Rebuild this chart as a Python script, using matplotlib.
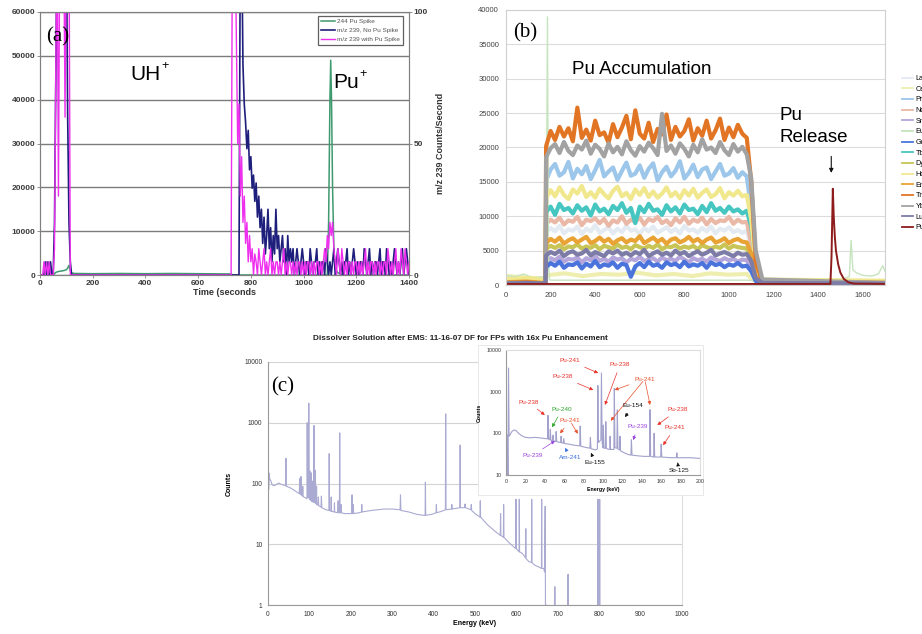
import numpy as np
import matplotlib.pyplot as plt
from matplotlib.patches import Rectangle

plt.rcParams['font.family'] = ['Liberation Sans', 'DejaVu Sans']

W, H = 922, 634
nan = np.nan

# ---------------- (a) ion signals vs time ----------------
# 244 Pu spike, counts (left axis)
green_t = [0, 50, 55, 60, 70, 80, 90, 100, 105, 110, 115, 120, 130, 200, 300, 400,
           500, 600, 700, 720, 735, 1090, 1095, 1100, 1103, 1106, 1110, 1115, 1120,
           1130, 1150, 1400]
green_v = [0, 0, 300, 600, 800, 900, 1000, 1200, 1600, 2200, 900, 500, 350, 300, 350, 300,
           350, 300, 250, 250, 0, 0, 12000, 40000, 49000, 40000, 20000, 6000, 1500,
           500, 0, 0]

# m/z 239 counts/second (right axis), 0-140 s and 700-1400 s every 5 s
navy_early = [0, 0, 0, 0, 5, 0, 5, 0, 5, 0, 0, 20, 75, 130, 130, 130, 130, 130, 130,
              130, 130, 60, 20, 5, 0, 0, 0, 0, 0]
magenta_early = [0, 0, 0, 5, 0, 5, 0, 5, 0, 0, 0, 10, 80, 130, 30, 130, 130, 130, 130,
                 60, 130, 130, 130, 0, 0, 0, 0, 0, 0]
navy_tail = [0, 0, 0, 0, 0, 0, 0, 0, 0, 0,
             0, 0, 130, 130, 80, 65, 58, 48, 55, 40,
             45, 33, 38, 28, 35, 22, 30, 18, 25, 12,
             22, 8, 15, 25, 10, 18, 5, 15, 8, 25,
             10, 15, 5, 10, 15, 5, 10, 0, 15, 5,
             10, 5, 10, 0, 5, 10, 5, 0, 5, 10,
             5, 0, 5, 5, 0, 10, 5, 0, 5, 5,
             10, 0, 5, 0, 5, 5, 0, 10, 5, 0,
             5, 0, 5, 10, 0, 5, 10, 5, 0, 5,
             0, 5, 5, 10, 0, 5, 0, 5, 10, 5,
             0, 5, 0, 5, 5, 0, 10, 5, 0, 5,
             10, 0, 5, 0, 5, 5, 0, 5, 10, 0,
             5, 5, 0, 10, 5, 0, 5, 0, 5, 10,
             5, 0, 5, 0, 5, 10, 0, 5, 10, 5,
             0]
magenta_tail = [0, 0, 0, 0, 0, 0, 130, 130, 130, 90,
                50, 65, 30, 45, 20, 30, 12, 20, 5, 15,
                5, 10, 0, 8, 5, 0, 10, 5, 0, 5,
                10, 0, 5, 0, 5, 10, 0, 5, 0, 5,
                5, 0, 5, 0, 5, 10, 0, 5, 0, 5,
                5, 0, 5, 0, 5, 0, 5, 5, 0, 5,
                0, 5, 0, 5, 5, 0, 5, 0, 5, 0,
                5, 5, 0, 5, 0, 5, 10, 5, 15, 10,
                20, 15, 20, 10, 5, 0, 10, 5, 0, 10,
                5, 0, 5, 0, 5, 5, 0, 5, 0, 5,
                5, 0, 5, 0, 5, 0, 5, 10, 0, 5,
                0, 5, 5, 0, 5, 0, 5, 5, 0, 5,
                0, 5, 5, 0, 10, 5, 0, 5, 0, 5,
                10, 0, 5, 0, 10, 5, 0, 10, 5, 0,
                5]

# ---------------- (b) lanthanide / Pu signals ----------------
b_pre_t = [0, 90, 177]
b_post_t = [1100, 1120, 1150, 1700]
# name: colour, pre-plateau counts, plateau (kcounts, 180-1080 s), post counts
b_series = {
    'La': ('#e4eaf2', [600, 800, 500],
           [7.6, 8.3, 7.8, 8.6, 7.5, 8.1, 7.9, 8.5, 7.4, 8.2, 7.8, 8.7, 7.6, 8.0, 8.4, 7.5,
            8.2, 7.7, 8.6, 7.9, 8.1, 7.4, 8.3, 7.8, 8.5, 7.6, 8.0, 8.4, 7.7, 8.2, 7.5, 8.6,
            7.9, 8.1, 7.6, 8.3, 7.8, 8.5, 7.5, 8.2, 7.9, 8.4, 7.7, 8.0, 7.6, 7.9],
           [5500, 1500, 500, 400]),
    'Ce': ('#eeeeb0', [1300, 1100, 900],
           [1.4, 1.7, 1.3, 1.6, 1.5, 1.8, 1.4, 1.6, 1.3, 1.7, 1.5, 1.6],
           [900, 700, 650, 600]),
    'Pr': ('#9cc6ea', [400, 500, 300],
           [15.2, 16.8, 17.6, 15.9, 16.4, 17.9, 15.5, 16.9, 16.1, 17.3, 15.4, 16.7, 18.2,
            15.8, 16.5, 17.1, 15.3, 16.6, 17.8, 15.9, 16.2, 17.4, 15.6, 16.9, 17.7, 15.2,
            16.4, 17.2, 15.8, 16.6, 18.0, 15.5, 16.3, 17.5, 15.7, 16.8, 17.1, 15.4, 16.5,
            17.6, 15.9, 16.2, 17.0, 15.6, 16.4, 15.8],
           [11000, 3000, 600, 300]),
    'Nd': ('#eab8a6', [300, 400, 300],
           [8.9, 9.5, 9.1, 9.8, 8.8, 9.4, 9.2, 9.9, 8.7, 9.5, 9.3, 9.7, 9.0, 9.6, 8.6, 9.4,
            9.1, 10.0, 8.9, 9.5, 9.2, 9.8, 8.8, 9.6, 9.3, 9.9, 9.0, 9.4, 8.7, 9.7, 9.1, 9.9,
            8.9, 9.5, 9.2, 9.8, 8.8, 9.6, 9.0, 9.4, 9.3, 9.9, 8.9, 9.5, 9.1, 9.2],
           [6000, 1800, 400, 300]),
    'Sm': ('#b4a6da', [300, 300, 200],
           [3.5, 3.9, 3.6, 4.1, 3.4, 3.8, 3.7, 4.0, 3.3, 3.9, 3.6, 4.2, 3.5, 3.8, 3.4, 4.0,
            3.7, 3.9, 3.3, 3.8, 3.6, 4.1, 3.5, 3.7, 3.9, 3.4, 4.0, 3.6, 3.8, 3.5, 4.1, 3.7,
            3.3, 3.9, 3.6, 3.8, 3.4, 4.0, 3.7, 3.5, 3.9, 3.6, 3.8, 3.4, 3.7, 3.6],
           [2500, 700, 200, 200]),
    'Gd': ('#4a74dc', [200, 300, 200],
           [2.6, 3.2, 2.8, 3.4, 2.5, 3.0, 2.9, 3.3, 2.4, 3.1, 2.7, 3.5, 2.6, 3.0, 2.8, 3.3,
            2.5, 3.1, 2.9, 1.2, 2.7, 3.2, 2.6, 3.4, 2.8, 3.0, 2.5, 3.3, 2.9, 3.1, 2.6, 3.4,
            2.7, 3.0, 2.8, 3.2, 2.5, 3.3, 2.9, 3.1, 2.6, 3.0, 2.8, 3.2, 2.7, 2.8],
           [2000, 600, 200, 100]),
    'Tb': ('#46c6c0', [300, 400, 300],
           [10.6, 11.4, 10.2, 11.8, 10.9, 11.2, 10.4, 11.6, 10.8, 11.3, 10.1, 11.7, 10.7,
            11.1, 10.3, 11.5, 10.9, 11.9, 10.5, 11.2, 9.0, 11.4, 10.6, 11.8, 10.8, 11.0,
            10.2, 11.6, 10.7, 11.3, 10.4, 11.7, 10.9, 11.1, 10.3, 11.5, 10.6, 11.9, 10.8,
            11.2, 10.5, 11.4, 10.7, 11.0, 10.4, 10.8],
           [8500, 3500, 700, 300]),
    'Dy': ('#c8c456', [500, 600, 400],
           [5.3, 5.7, 5.4, 5.8, 5.2, 5.6, 5.5, 5.9, 5.3, 5.6, 5.4, 5.8, 5.2, 5.7, 5.5, 5.3,
            5.9, 5.4, 5.6, 5.2, 5.8, 5.5, 5.3, 5.7, 5.4, 5.9, 5.2, 5.6, 5.5, 5.8, 5.3, 5.6,
            5.4, 5.7, 5.2, 5.8, 5.5, 5.3, 5.6, 5.4, 5.9, 5.3, 5.7, 5.5, 5.4, 5.3],
           [4000, 1200, 400, 300]),
    'Ho': ('#f1e88e', [800, 1000, 700],
           [12.6, 13.8, 12.9, 14.2, 13.1, 12.5, 13.9, 13.3, 14.4, 12.8, 13.5, 12.7, 14.0,
            13.2, 12.6, 13.7, 14.3, 12.9, 13.4, 12.5, 13.9, 13.1, 14.1, 12.8, 13.6, 12.7,
            13.3, 14.2, 12.9, 13.5, 12.6, 13.8, 13.0, 14.0, 12.7, 13.4, 13.9, 12.8, 13.2,
            14.1, 12.6, 13.5, 13.0, 13.7, 12.9, 13.1],
           [9500, 2500, 800, 600]),
    'Er': ('#e9a234', [400, 500, 300],
           [6.1, 6.7, 6.3, 6.9, 6.0, 6.5, 6.8, 6.2, 6.6, 7.0, 6.1, 6.4, 6.9, 6.3, 6.7, 6.0,
            6.5, 6.8, 6.2, 6.6, 6.4, 7.1, 6.1, 6.5, 6.9, 6.3, 6.7, 6.0, 6.6, 6.8, 6.2, 6.5,
            7.0, 6.3, 6.7, 6.1, 6.6, 6.9, 6.2, 6.4, 6.8, 6.1, 6.5, 6.7, 6.3, 6.2],
           [4500, 1300, 400, 300]),
    'Tm': ('#e27524', [300, 400, 200],
           [20.2, 22.4, 21.1, 23.0, 21.6, 22.8, 20.9, 25.8, 21.4, 22.6, 21.0, 23.9, 21.8,
            22.2, 20.7, 23.4, 21.5, 22.9, 24.6, 21.2, 25.4, 22.0, 21.3, 23.6, 20.8, 22.7,
            21.9, 24.8, 21.1, 23.0, 21.6, 22.4, 24.1, 21.0, 22.8, 21.7, 23.9, 21.3, 22.5,
            24.2, 21.1, 22.9, 21.5, 23.3, 22.0, 21.4],
           [15000, 3500, 500, 300]),
    'Yb': ('#a2a2a2', [300, 300, 200],
           [18.6, 19.9, 20.5, 19.2, 20.8, 19.5, 18.9, 20.3, 19.7, 21.0, 19.1, 20.4, 19.8,
            18.7, 20.6, 19.3, 20.1, 19.0, 20.9, 19.6, 18.8, 20.2, 19.4, 20.7, 19.9, 18.9,
            24.9, 19.5, 20.3, 19.1, 20.6, 19.8, 18.7, 20.4, 19.3, 21.2, 19.7, 20.0, 19.2,
            20.8, 19.6, 18.9, 20.5, 19.4, 20.1, 19.0],
           [15500, 5000, 800, 300]),
    'Lu': ('#7c7ca6', [200, 300, 200],
           [4.3, 4.8, 4.5, 5.0, 4.2, 4.7, 4.9, 4.4, 4.6, 5.1, 4.3, 4.8, 4.5, 4.2, 4.9, 4.6,
            5.0, 4.4, 4.7, 4.3, 4.8, 4.5, 5.1, 4.2, 4.6, 4.9, 4.4, 4.7, 4.3, 5.0, 4.5, 4.8,
            4.2, 4.6, 4.9, 4.4, 4.7, 5.1, 4.3, 4.6, 4.8, 4.5, 4.2, 4.7, 4.4, 4.5],
           [3500, 1000, 300, 200]),
}
eu_t = [0, 40, 80, 120, 160, 180, 186, 190, 194, 200, 600, 1080, 1120, 1300, 1500,
        1540, 1548, 1556, 1570, 1600, 1640, 1670, 1690, 1700]
eu_v = [1400, 1200, 1600, 1000, 1200, 900, 39000, 5000, 900, 700, 700, 700, 600, 700,
        800, 1200, 6500, 2200, 1800, 1400, 1300, 1600, 2800, 2000]
pu_t = [0, 1455, 1460, 1466, 1470, 1475, 1480, 1490, 1500, 1515, 1535, 1560, 1700]
pu_v = [150, 150, 4000, 14000, 10000, 7000, 5000, 3000, 1800, 900, 400, 200, 150]
b_order = ['La', 'Ce', 'Pr', 'Nd', 'Sm', 'Eu', 'Gd', 'Tb', 'Dy', 'Ho', 'Er', 'Tm',
           'Yb', 'Lu', 'Pu']

# ---------------- (c) gamma spectrum ----------------
spec_E = [0, 0.5, 2, 3, 4, 7, 10, 15, 20, 26, 30, 38, 42.5, 43.3, 44, 48, 55, 60, 70,
          75.5, 76.5, 77.5, 79, 79.7, 80.5, 83, 84, 85, 92, 94.2, 94.7, 95.5, 98, 98.5,
          99.2, 100.5, 101.2, 102, 103.5, 104, 104.8, 107, 108, 108.8, 110.6, 111.1,
          111.8, 114, 114.5, 115.3, 116.8, 117.3, 118, 121, 121.7, 122.5, 128, 129, 130,
          140, 147.2, 147.8, 148.6, 152, 152.7, 153.4, 160, 160.5, 161, 168, 169.5, 170.5,
          172.5, 173.2, 174, 176, 176.5, 177, 185, 200, 202.5, 203, 203.8, 205.5, 206,
          206.8, 220, 226, 226.5, 227, 250, 280, 300, 319, 320, 321, 340, 360, 375, 379.5,
          380.2, 381, 395, 406, 406.7, 407.4, 420, 428.5, 429.2, 430, 443.5, 444, 444.6,
          455, 463.5, 464.1, 464.8, 475, 476, 477, 490, 491, 492, 500, 512, 512.8, 513.5,
          530, 550, 561, 561.8, 562.5, 568.5, 569.2, 570, 580, 590, 598.5, 599, 599.6,
          603, 606.5, 607, 607.6, 615, 622, 622.7, 623.3, 630, 636.5, 637, 637.6, 645,
          655, 660.5, 661, 661.6, 666, 668, 669.5, 670.2, 672, nan,
          692, 692.8, 693.6, nan, 724, 724.8, 725.6, nan,
          796.5, 797.2, 797.9, 800.5, 801.2, 801.9]
spec_c = [100, 82, 80, 148, 120, 110, 95, 92, 96, 102, 98, 94, 92, 260, 90, 88, 84, 80, 72,
          68, 120, 67, 66, 130, 65, 62, 90, 61, 57, 56, 1000, 60, 60, 2100,
          58, 55, 160, 54, 53, 150, 52, 50, 110, 50, 49, 900,
          50, 48, 165, 47, 46, 90, 45, 44, 60, 43, 41, 62, 40,
          37, 36, 310, 36, 35, 60, 35, 34, 48, 34, 33, 52, 33,
          33, 680, 33, 33, 45, 33, 32, 32, 32, 65, 32, 32, 45,
          32, 33, 34, 45, 34, 36, 38, 38, 37, 65, 36, 34, 31, 30, 30,
          105, 30, 31, 33, 45, 33, 35, 37, 1400, 37, 38, 45, 38,
          39, 40, 430, 40, 40, 46, 40, 37, 45, 36, 32, 28, 52, 28,
          21, 16, 14, 32, 14, 13, 45, 13, 11, 9.5, 8.5, 55, 8.5,
          8, 7.5, 55, 7.5, 7, 6, 18, 5.8, 5.2, 5, 55, 5, 4.5,
          4.2, 4, 55, 4, 4, 3.5, 42, 1, 1, nan,
          1, 2, 1, nan, 1, 3.2, 1, nan,
          1, 55, 1, 1, 55, 1]

# low-energy detail (inset)
low_E = [0, 1.5, 2.0, 2.6, 3.2, 4.5, 6, 8, 10, 13, 16, 20, 25, 30, 35, 40, 42.8, 43.3,
         43.9, 45.2, 45.7, 46.3, 48, 48.5, 49, 51.2, 51.7, 52.3, 56.3, 56.8, 57.4, 59,
         59.6, 60.2, 65, 70, 76, 76.5, 77.1, 82, 86.5, 87, 87.6, 92, 94.2, 94.7, 95.3,
         97.8, 98.4, 99.1, 100, 100.4, 100.9, 102.4, 102.9, 103.5, 105, 107, 107.3,
         107.8, 111.2, 111.7, 112.3, 114.3, 114.8, 115.4, 117, 117.5, 118.1, 122, 126,
         128.8, 129.3, 129.9, 135, 142, 148, 148.5, 149.1, 152.2, 152.7, 153.3, 159.5,
         160, 160.6, 170, 175.6, 176.1, 176.7, 190, 200]
low_c = [95, 90, 10, 3700, 85, 95, 110, 120, 118, 100, 88, 80, 78, 80, 78, 75, 74, 270,
         72, 70, 125, 68, 66, 90, 65, 64, 110, 63, 60, 85, 59, 58,
         75, 57, 55, 52, 50, 150, 49, 46, 44, 80, 43, 40, 42, 1400, 60,
         70, 2800, 60, 45, 158, 44, 44, 190, 43, 42, 41, 85,
         41, 41, 1200, 45, 44, 365, 42, 40, 85, 38, 34, 31,
         30, 70, 30, 29, 28, 28, 370, 28, 27, 100, 27, 27,
         55, 27, 26, 26, 34, 26, 26, 25]

# label, colour, text (keV, counts), arrow tips
peak_labels = [
    ('Pu-241', '#e8322a', (66, 5500), [(95, 2800)]),
    ('Pu-238', '#e8322a', (117.5, 4400), [(102, 480)]),
    ('Pu-238', '#e8322a', (58, 2250), [(90, 1100)]),
    ('Pu-241', '#e8502a', (143, 2000), [(112, 1100), (108, 200), (148.5, 480)]),
    ('Eu-154', '#111111', (131, 455), [(122.7, 245)]),
    ('Pu-238', '#e8322a', (177, 365), [(156, 158)]),
    ('Pu-241', '#e8322a', (174, 135), [(162, 52)]),
    ('Pu-239', '#9b44e0', (136, 142), [(131, 69)]),
    ('Sb-125', '#111111', (178, 12.6), [(177, 20)]),
    ('Eu-155', '#111111', (92, 19.5), [(87.6, 34)]),
    ('Am-241', '#3a6ee0', (66, 26), [(61, 45)]),
    ('Pu-239', '#9b44e0', (27, 29), [(50.5, 66)]),
    ('Pu-238', '#e8322a', (23, 560), [(40, 275)]),
    ('Pu-240', '#2aa62a', (58, 380), [(47.5, 140)]),
    ('Pu-241', '#e8502a', (66, 200), [(55.7, 100), (74, 98)]),
]


def box(x0, y0, x1, y1):
    return [x0 / W, 1 - y1 / H, (x1 - x0) / W, (y1 - y0) / H]


def fx(x):
    return x / W


def fy(y):
    return 1 - y / H


def bold_ticks(ax):
    for lab in ax.get_xticklabels() + ax.get_yticklabels():
        lab.set_fontweight('bold')


fig = plt.figure(figsize=(W / 100, H / 100), dpi=100)
fig.patch.set_facecolor('white')

# ---- panel (a)
ax_a = fig.add_axes(box(40, 12, 409, 275))
ax_a.set_xlim(0, 1400)
ax_a.set_ylim(0, 60000)
ax_a.set_xticks(range(0, 1401, 200))
ax_a.set_yticks(range(0, 60001, 10000))
ax_a.yaxis.grid(True, color='#7c7c7c', lw=1.0)
ax_a.set_axisbelow(True)
lg, = ax_a.plot(green_t, green_v, color='#3f9a70', lw=1.1)
ax_a2 = ax_a.twinx()
ax_a2.set_ylim(0, 100)
ax_a2.set_yticks([0, 50, 100])
t_early = np.linspace(0, 140, len(navy_early))
t_tail = np.linspace(700, 1400, len(navy_tail))
ln, = ax_a2.plot(np.concatenate([t_early, t_tail]), navy_early + navy_tail,
                 color='#1e1e7c', lw=1.2)
lm, = ax_a2.plot(np.concatenate([np.linspace(0, 140, len(magenta_early)),
                                 np.linspace(700, 1400, len(magenta_tail))]),
                 magenta_early + magenta_tail, color='#ee30ee', lw=1.0)
for ax in (ax_a, ax_a2):
    for s in ax.spines.values():
        s.set_color('#808080')
    ax.tick_params(labelsize=6, length=2, width=0.6, color='#808080',
                   labelcolor='#3a3a3a', pad=1.5)
    bold_ticks(ax)
ax_a.set_xlabel('Time (seconds', fontsize=6.5, fontweight='bold', color='#333333',
                labelpad=1)
ax_a2.set_ylabel('m/z 239 Counts/Second', fontsize=6.5, fontweight='bold',
                 color='#333333', labelpad=6)
leg = ax_a2.legend([lg, ln, lm], ['244 Pu Spike', 'm/z 239, No Pu Spike',
                                  'm/z 239 with Pu Spike'],
                   loc='upper right', bbox_to_anchor=(0.993, 0.997), fontsize=4.6,
                   frameon=True, fancybox=False, framealpha=1, edgecolor='#606060',
                   handlelength=2.2, handletextpad=0.4, labelspacing=0.55,
                   borderpad=0.45)
leg.get_frame().set_linewidth(0.9)
for t in leg.get_texts():
    t.set_color('#555555')
fig.text(fx(58), fy(37), '(a)', fontsize=15, family='Liberation Serif',
         ha='center', va='center')
fig.text(fx(130), fy(74), 'UH', fontsize=15, ha='left', va='center')
fig.text(fx(161), fy(66), '+', fontsize=9, ha='left', va='center')
fig.text(fx(333), fy(82), 'Pu', fontsize=15, ha='left', va='center')
fig.text(fx(359), fy(74), '+', fontsize=9, ha='left', va='center')

# ---- panel (b)
ax_b = fig.add_axes(box(506, 10, 885, 285))
ax_b.set_xlim(0, 1700)
ax_b.set_ylim(0, 40000)
ax_b.set_xticks(range(0, 1601, 200))
ax_b.set_yticks(range(0, 40001, 5000))
ax_b.yaxis.grid(True, color='#dcdcdc', lw=0.8)
ax_b.set_axisbelow(True)
for s in ax_b.spines.values():
    s.set_color('#cfcfcf')
ax_b.tick_params(labelsize=5.5, length=0, labelcolor='#444444', pad=5)
handles = []
for name in b_order:
    if name == 'Eu':
        h, = ax_b.plot(eu_t, eu_v, color='#c6e4be', lw=1.0)
    elif name == 'Pu':
        h, = ax_b.plot(pu_t, pu_v, color='#8e1c1c', lw=1.4)
    else:
        col, pre, plateau, post = b_series[name]
        tp = np.linspace(180, 1080, len(plateau))
        t = np.concatenate([b_pre_t, tp, b_post_t])
        v = np.concatenate([pre, np.array(plateau) * 1000, post])
        h, = ax_b.plot(t, v, color=col, lw=3.0)
    handles.append(h)
leg_b = ax_b.legend(handles, b_order, loc='upper left',
                    bbox_to_anchor=(fx(902), fy(75)), bbox_transform=fig.transFigure,
                    frameon=False, fontsize=5.2, handlelength=1.5, handletextpad=0.35,
                    labelspacing=0.5, borderpad=0, borderaxespad=0)
for h in leg_b.legend_handles:
    h.set_linewidth(1.3)
fig.text(fx(525), fy(33), '(b)', fontsize=15, family='Liberation Serif',
         ha='center', va='center')
fig.text(fx(642), fy(70), 'Pu Accumulation', fontsize=13.5, ha='center', va='center')
fig.text(fx(779), fy(115), 'Pu', fontsize=13.5, ha='left', va='center')
fig.text(fx(779), fy(137), 'Release', fontsize=13.5, ha='left', va='center')
ax_b.annotate('', xy=(1459, 16300), xytext=(1459, 18700),
              arrowprops=dict(arrowstyle='-|>', color='#111111', lw=0.8,
                              mutation_scale=6, shrinkA=0, shrinkB=0))

# ---- panel (c)
fig.text(fx(460), fy(338), 'Dissolver Solution after EMS: 11-16-07 DF for FPs with '
         '16x Pu Enhancement', fontsize=5.9, fontweight='bold', ha='center',
         va='center', color='#222222')
ax_c = fig.add_axes(box(268, 362, 682, 605))
ax_c.set_yscale('log')
ax_c.set_xlim(0, 1000)
ax_c.set_ylim(1, 10000)
ax_c.set_xticks(range(0, 1001, 100))
ax_c.set_yticks([1, 10, 100, 1000, 10000])
ax_c.set_yticklabels(['1', '10', '100', '1000', '10000'])
ax_c.minorticks_off()
ax_c.yaxis.grid(True, color='#d4d4d4', lw=0.8)
ax_c.set_axisbelow(True)
ax_c.spines['top'].set_visible(False)
ax_c.spines['right'].set_color('#dddddd')
ax_c.spines['left'].set_color('#9a9a9a')
ax_c.spines['bottom'].set_color('#9a9a9a')
ax_c.tick_params(labelsize=4.8, length=0, labelcolor='#333333', pad=4)
ax_c.plot(spec_E, spec_c, color='#aaaad2', lw=0.8)
ax_c.set_xlabel('Energy (keV)', fontsize=5, fontweight='bold', labelpad=2)
ax_c.set_ylabel('Counts', fontsize=5, fontweight='bold', labelpad=8)
fig.text(fx(283), fy(387), '(c)', fontsize=15, family='Liberation Serif',
         ha='center', va='center')

# inset panel on a white card
fig.patches.append(Rectangle((fx(478), fy(495)), (703 - 478) / W, (495 - 345) / H,
                             transform=fig.transFigure, facecolor='white',
                             edgecolor='#e4e4e4', lw=0.6, zorder=1))
ax_i = fig.add_axes(box(506, 350, 700, 475))
ax_i.set_zorder(2)
ax_i.set_yscale('log')
ax_i.set_xlim(0, 200)
ax_i.set_ylim(10, 10000)
ax_i.set_xticks(range(0, 201, 20))
ax_i.set_yticks([10, 100, 1000, 10000])
ax_i.set_yticklabels(['10', '100', '1000', '10000'])
ax_i.minorticks_off()
for s in ax_i.spines.values():
    s.set_color('#dddddd')
ax_i.spines['left'].set_color('#9a9a9a')
ax_i.spines['bottom'].set_color('#9a9a9a')
ax_i.tick_params(labelsize=3.8, length=0, labelcolor='#333333', pad=3)
ax_i.plot(low_E, low_c, color='#a2a2cc', lw=0.8)
ax_i.set_xlabel('Energy (keV)', fontsize=3.8, fontweight='bold', labelpad=2)
ax_i.set_ylabel('Counts', fontsize=3.8, fontweight='bold', labelpad=4)
for text, col, xytext, tips in peak_labels:
    for k, tip in enumerate(tips):
        ax_i.annotate(text if k == 0 else '', xy=tip, xytext=xytext, fontsize=4.6,
                      color=col, ha='center', va='center',
                      arrowprops=dict(arrowstyle='-|>', color=col, lw=0.5,
                                      mutation_scale=5, shrinkA=2, shrinkB=0))

fig.savefig('out.png', dpi=100, facecolor='white')
